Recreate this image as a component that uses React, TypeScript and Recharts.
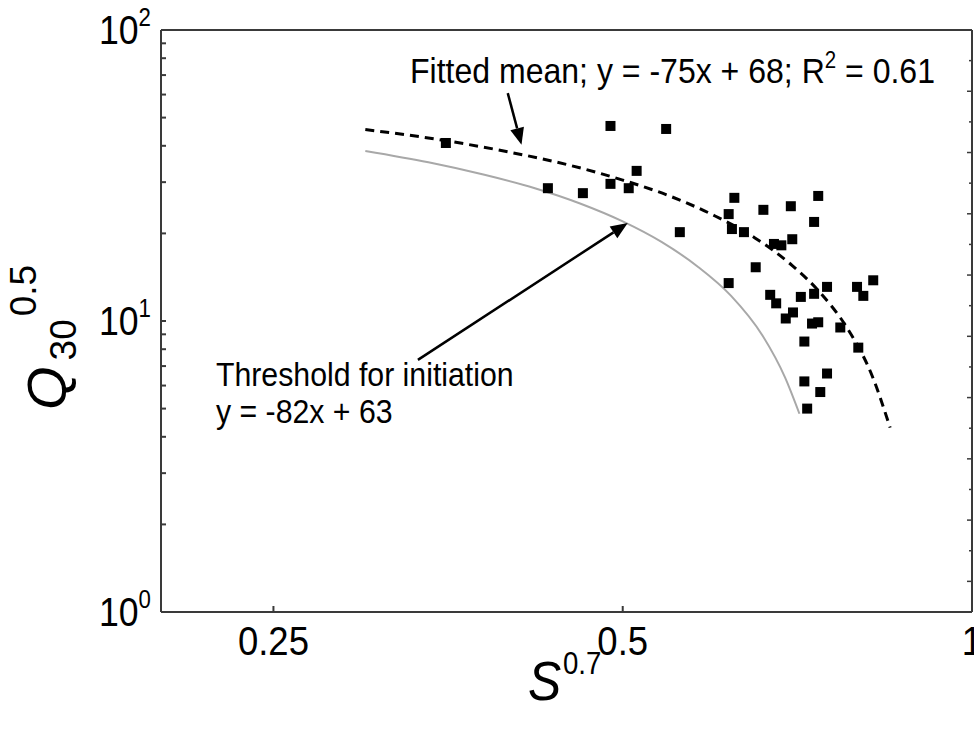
import { ComposedChart, XAxis, YAxis, Scatter, Line, ReferenceLine } from 'recharts';

// observed storms: S^0.7 and Q30^0.5
const sValues = [
  0.352, 0.488, 0.545, 0.514, 0.488, 0.506, 0.431, 0.462, 0.56, 0.624, 0.737, 0.661, 0.698, 0.617,
  0.731, 0.621, 0.636, 0.675, 0.685, 0.7, 0.651, 0.617, 0.67, 0.678, 0.712, 0.731, 0.75, 0.796,
  0.806, 0.822, 0.691, 0.701, 0.728, 0.737, 0.77, 0.717, 0.798, 0.75, 0.717, 0.74, 0.721,
];
const qValues = [
  40.9, 46.8, 45.7, 32.8, 29.6, 28.6, 28.6, 27.5, 20.2, 26.5, 26.9, 24.1, 24.8, 23.3,
  21.9, 20.7, 20.2, 18.4, 18.2, 19.1, 15.3, 13.5, 12.3, 11.5, 12.1, 12.4, 13.1, 13.1,
  12.2, 13.8, 10.2, 10.7, 9.8, 9.9, 9.5, 8.5, 8.1, 6.6, 6.2, 5.7, 5.0,
];

// fitted mean curve (dashed)
const fitS = [0.3, 0.35, 0.4, 0.45, 0.5, 0.55, 0.6, 0.65, 0.7, 0.74, 0.78, 0.82, 0.85];
const fitQ = [45.5, 41.8, 38.0, 34.3, 30.5, 26.8, 23.0, 19.3, 15.5, 12.5, 9.5, 6.5, 4.3];

// threshold for initiation (grey)
const thrS = [0.3, 0.34, 0.38, 0.42, 0.46, 0.5, 0.54, 0.58, 0.62, 0.66, 0.69, 0.71];
const thrQ = [38.4, 35.1, 31.8, 28.6, 25.3, 22.0, 18.7, 15.4, 12.2, 8.9, 6.4, 4.8];

const xTicks = [0.25, 0.5, 1];
const yTicks = [1, 2, 3, 4, 5, 6, 7, 8, 9, 10, 20, 30, 40, 50, 60, 70, 80, 90, 100];
const yLabels = [1, 10, 100];
const topTicks = [
  0, 0.25, 0.5, 0.75, 1, 1.25, 1.5, 1.75, 2, 2.25, 2.5, 2.75, 3, 3.25, 3.5, 3.75, 4,
  4.25, 4.5, 4.75, 5, 5.25, 5.5, 5.75, 6, 6.25, 6.5, 6.75, 7, 7.25, 7.5, 7.75, 8,
];
const rightTicks = [0.5, 1, 1.5, 2, 2.5, 3, 3.5, 4, 4.5, 5, 5.5, 6, 6.5, 7, 7.5, 8, 8.5, 9];

const points = sValues.map((s, i) => ({ x: s, y: qValues[i] }));
const fitData = fitS.map((s, i) => ({ x: s, y: fitQ[i] }));
const thrData = thrS.map((s, i) => ({ x: s, y: thrQ[i] }));

const FONT = "'Liberation Sans', Arial, sans-serif";
const AXIS = '#3a3a3a';
const SX = 0.89;

const Square = (props: any) => {
  const { cx, cy } = props;
  return <rect x={cx - 5} y={cy - 5} width={10} height={10} fill="#000" />;
};

const YTick = ({ x, y, payload }: any) => {
  const v = payload.value;
  const major = yLabels.includes(v);
  return (
    <g>
      <line x1={x} y1={y} x2={x + 5} y2={y} stroke={AXIS} strokeWidth={2} />
      {major && (
        <g transform={`translate(${x - 10},${y + 14}) scale(${SX},1)`}>
          <text textAnchor="end" fontSize={40} fontFamily={FONT} fill="#000">
            10
            <tspan dy={-18} fontSize={25}>
              {Math.round(Math.log10(v))}
            </tspan>
          </text>
        </g>
      )}
    </g>
  );
};

const XTick = ({ x, y, payload }: any) => (
  <g>
    <line x1={x} y1={y} x2={x} y2={y - 6} stroke={AXIS} strokeWidth={2} />
    <g transform={`translate(${x},${y + 43}) scale(${SX},1)`}>
      <text textAnchor="middle" fontSize={41} fontFamily={FONT} fill="#000">
        {payload.value}
      </text>
    </g>
  </g>
);

const TopTick = ({ x, y, payload }: any) => {
  const len = Number.isInteger(payload.value) ? 5 : 3;
  return <line x1={x} y1={y} x2={x} y2={y + len} stroke={AXIS} strokeWidth={1.5} />;
};

const RightTick = ({ x, y, payload }: any) => {
  const len = Number.isInteger(payload.value) ? 3 : 5;
  return <line x1={x} y1={y} x2={x - len} y2={y} stroke={AXIS} strokeWidth={1.5} />;
};

const Arrow = (props: any) => {
  const { x1, y1, x2, y2 } = props;
  const a = Math.atan2(y2 - y1, x2 - x1);
  const L = 17;
  const W = 7;
  const bx = x2 - L * Math.cos(a);
  const by = y2 - L * Math.sin(a);
  const px = -Math.sin(a) * W;
  const py = Math.cos(a) * W;
  return (
    <g>
      <line x1={x1} y1={y1} x2={bx} y2={by} stroke="#000" strokeWidth={2.5} />
      <polygon points={`${x2},${y2} ${bx + px},${by + py} ${bx - px},${by - py}`} fill="#000" />
    </g>
  );
};

export default function App() {
  return (
    <div style={{ position: 'absolute', left: 0, top: 0, width: 974, height: 729, background: '#fff' }}>
      <ComposedChart width={974} height={729} margin={{ top: 0, right: 0, bottom: 0, left: 0 }}>
        <XAxis
          dataKey="x"
          type="number"
          scale="log"
          domain={[0.2, 1]}
          allowDataOverflow
          ticks={xTicks}
          interval={0}
          height={117}
          tickSize={0}
          tickMargin={0}
          tickLine={false}
          axisLine={{ stroke: AXIS, strokeWidth: 2 }}
          tick={<XTick />}
        />
        <XAxis
          xAxisId="top"
          orientation="top"
          type="number"
          domain={[0, 8]}
          allowDataOverflow
          ticks={topTicks}
          interval={0}
          height={30}
          tickSize={0}
          tickMargin={0}
          tickLine={false}
          axisLine={{ stroke: AXIS, strokeWidth: 2 }}
          tick={<TopTick />}
        />
        <YAxis
          type="number"
          scale="log"
          domain={[1, 100]}
          allowDataOverflow
          ticks={yTicks}
          interval={0}
          width={161}
          tickSize={0}
          tickMargin={0}
          tickLine={false}
          axisLine={{ stroke: AXIS, strokeWidth: 2 }}
          tick={<YTick />}
        />
        <YAxis
          yAxisId="right"
          orientation="right"
          type="number"
          domain={[0, 9.5]}
          allowDataOverflow
          ticks={rightTicks}
          interval={0}
          width={2}
          tickSize={0}
          tickMargin={0}
          tickLine={false}
          axisLine={{ stroke: AXIS, strokeWidth: 2 }}
          tick={<RightTick />}
        />
        <Line
          data={thrData}
          dataKey="y"
          type="monotone"
          stroke="#a8a8a8"
          strokeWidth={2}
          dot={false}
          activeDot={false}
          isAnimationActive={false}
        />
        <Line
          data={fitData}
          dataKey="y"
          type="monotone"
          stroke="#000"
          strokeWidth={3}
          strokeDasharray="9 6"
          dot={false}
          activeDot={false}
          isAnimationActive={false}
        />
        <Scatter data={points} dataKey="y" shape={<Square />} isAnimationActive={false} />
        <ReferenceLine
          segment={[{ x: 0.398, y: 60.7 }, { x: 0.409, y: 40.3 }]}
          ifOverflow="visible"
          shape={<Arrow />}
        />
        <ReferenceLine
          segment={[{ x: 0.333, y: 7.35 }, { x: 0.505, y: 21.7 }]}
          ifOverflow="visible"
          shape={<Arrow />}
        />
      </ComposedChart>
      <svg
        width={974}
        height={729}
        style={{ position: 'absolute', left: 0, top: 0, pointerEvents: 'none' }}
        fontFamily={FONT}
      >
        <g transform={`translate(410,83) scale(${SX},1)`}>
          <text fontSize={36} fill="#000">
            Fitted mean; y = -75x + 68; R
            <tspan dy={-15} fontSize={23}>2</tspan>
            <tspan dy={15}> = 0.61</tspan>
          </text>
        </g>
        <g transform={`translate(216,386) scale(${SX},1)`}>
          <text fontSize={34} fill="#000">Threshold for initiation</text>
        </g>
        <g transform={`translate(216,423) scale(${SX},1)`}>
          <text fontSize={34} fill="#000">y = -82x + 63</text>
        </g>
        <g transform={`translate(528,700) scale(${SX},1)`}>
          <text fontSize={56} fill="#000">
            <tspan fontStyle="italic">S</tspan>
            <tspan dx={2} dy={-26} fontSize={31}>0.7</tspan>
          </text>
        </g>
        <g transform="translate(66,410) rotate(-90)">
          <text fontSize={56} fill="#000">
            <tspan fontStyle="italic">Q</tspan>
            <tspan dx={6} dy={10} fontSize={37}>30</tspan>
            <tspan dx={3} dy={-40} fontSize={37}>0.5</tspan>
          </text>
        </g>
      </svg>
    </div>
  );
}
